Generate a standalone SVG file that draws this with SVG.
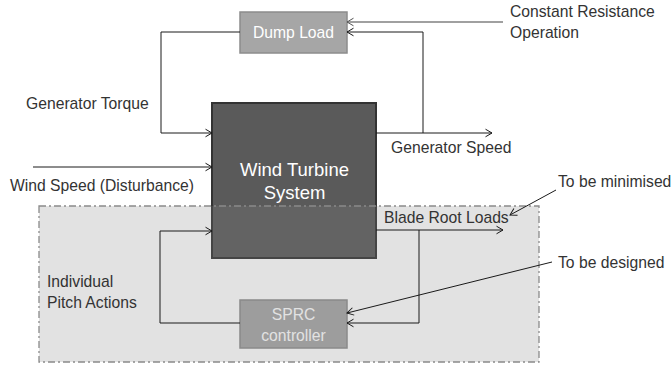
<svg xmlns="http://www.w3.org/2000/svg" width="671" height="366" viewBox="0 0 671 366">
<defs>
<marker id="arr" markerUnits="userSpaceOnUse" markerWidth="12" markerHeight="12" refX="0" refY="0" viewBox="-8 -6 10 12" orient="auto">
<path d="M-6.5,-3.8 L0,0 L-6.5,3.8" fill="none" stroke="#1a1a1a" stroke-width="1"/>
</marker>
<marker id="arrg" markerUnits="userSpaceOnUse" markerWidth="12" markerHeight="12" refX="0" refY="0" viewBox="-8 -6 10 12" orient="auto">
<path d="M-6.5,-3.8 L0,0 L-6.5,3.8" fill="none" stroke="#555" stroke-width="1"/>
</marker>
</defs>
<style>
.lbl{font-family:"Liberation Sans",Arial,sans-serif;font-size:15.7px;fill:#333}
.wl{font-family:"Liberation Sans",Arial,sans-serif;fill:#fff;text-anchor:middle}
.c{fill:none;stroke:#1a1a1a;stroke-width:1}
</style>
<rect width="671" height="366" fill="#fff"/>
<g id="wind-turbine">
<rect x="212" y="103" width="164" height="155" fill="#5a5a5a" stroke="#333" stroke-width="2"/>
<text class="wl" x="294.5" y="176" font-size="18.5">Wind Turbine</text>
<text class="wl" x="294.5" y="199" font-size="18.5">System</text>
</g>
<g id="dump-load">
<rect x="240" y="12" width="107" height="41" fill="#a6a6a6" stroke="#8c8c8c" stroke-width="1.5"/>
<text class="wl" x="293.5" y="37.5" font-size="15.7">Dump Load</text>
</g>
<g id="sprc">
<rect x="240" y="300" width="107" height="48" fill="#a6a6a6" stroke="#8c8c8c" stroke-width="1.5"/>
<text class="wl" x="293.5" y="320" font-size="15.7">SPRC</text>
<text class="wl" x="293.5" y="341" font-size="15.7">controller</text>
</g>
<g id="pitch-region">
<rect x="39" y="206" width="500" height="156" fill="#818181" fill-opacity="0.23" stroke="#8a8a8a" stroke-width="1.3" stroke-dasharray="7 3 2 3"/>
</g>
<g id="connectors">
<polyline class="c" points="240,32 161,32 161,133 212,133" marker-end="url(#arr)"/>
<polyline class="c" points="376,133 492,133" marker-end="url(#arr)"/>
<polyline class="c" points="423,133 423,32 347,32" marker-end="url(#arr)"/>
<polyline points="503,22 347,22" fill="none" stroke="#808080" stroke-width="1.3" marker-end="url(#arrg)"/>
<polyline class="c" points="33,167 212,167" marker-end="url(#arr)"/>
<polyline class="c" points="376,230 503,230" marker-end="url(#arr)"/>
<polyline class="c" points="419,230 419,323 347,323" marker-end="url(#arr)"/>
<polyline class="c" points="240,323 160,323 160,231 212,231" marker-end="url(#arr)"/>
<line class="c" x1="556" y1="190" x2="510" y2="215" marker-end="url(#arr)"/>
<line class="c" x1="552" y1="262" x2="347" y2="313" marker-end="url(#arr)"/>
</g>
<g id="labels">
<text class="lbl" x="510" y="17">Constant Resistance</text>
<text class="lbl" x="510" y="38">Operation</text>
<text class="lbl" x="26" y="109">Generator Torque</text>
<text class="lbl" x="391" y="153">Generator Speed</text>
<text class="lbl" x="10" y="191">Wind Speed (Disturbance)</text>
<text class="lbl" x="558" y="187">To be minimised</text>
<text class="lbl" x="384" y="223">Blade Root Loads</text>
<text class="lbl" x="558" y="268">To be designed</text>
<text class="lbl" x="47" y="287">Individual</text>
<text class="lbl" x="47" y="308">Pitch Actions</text>
</g>
</svg>
